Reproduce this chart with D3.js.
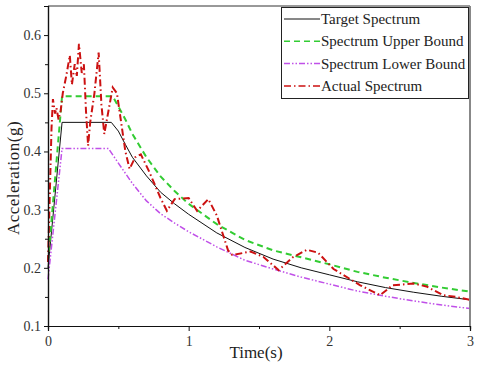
<!DOCTYPE html>
<html>
<head>
<meta charset="utf-8">
<script src="https://cdn.jsdelivr.net/npm/d3@7"></script>
<style>
  body { margin: 0; background: #fff; }
  text { font-family: "Liberation Serif", "Times New Roman", serif; }
</style>
</head>
<body>
<svg id="chart" width="480" height="369"></svg>
<script>
// series (period in s, acceleration in g)
var targetT   = [0, 0.1, 0.45, 0.5, 0.55, 0.6, 0.7, 0.8, 0.9, 1.0, 1.2, 1.4, 1.6, 1.8, 2.0, 2.2, 2.4, 2.6, 2.8, 3.0];
var targetA   = [0.2, 0.45, 0.45, 0.435, 0.412, 0.39, 0.358, 0.33, 0.31, 0.292, 0.26, 0.235, 0.215, 0.2, 0.188, 0.176, 0.166, 0.158, 0.151, 0.145];

var upperT    = [0, 0.1, 0.46, 0.55, 0.6, 0.7, 0.8, 0.9, 1.0, 1.2, 1.4, 1.6, 1.8, 2.0, 2.2, 2.4, 2.6, 2.8, 3.0];
var upperA    = [0.21, 0.495, 0.495, 0.455, 0.43, 0.39, 0.357, 0.332, 0.31, 0.275, 0.248, 0.23, 0.218, 0.206, 0.193, 0.183, 0.174, 0.166, 0.159];

var lowerT    = [0, 0.1, 0.43, 0.5, 0.6, 0.7, 0.8, 0.9, 1.0, 1.2, 1.4, 1.6, 1.8, 2.0, 2.2, 2.4, 2.6, 2.8, 3.0];
var lowerA    = [0.18, 0.405, 0.405, 0.38, 0.345, 0.315, 0.293, 0.277, 0.262, 0.236, 0.213, 0.198, 0.184, 0.172, 0.16, 0.151, 0.143, 0.136, 0.13];

var actualT   = [0, 0.01, 0.025, 0.035, 0.05, 0.06, 0.075, 0.09, 0.105, 0.13, 0.155, 0.17, 0.19, 0.205, 0.22, 0.24, 0.255, 0.27, 0.285, 0.3, 0.33, 0.36, 0.38, 0.4, 0.43, 0.46, 0.49, 0.52, 0.55, 0.58, 0.62, 0.66, 0.72, 0.8, 0.845, 0.9, 1.0, 1.06, 1.14, 1.2, 1.28, 1.31, 1.44, 1.53, 1.64, 1.74, 1.84, 1.92, 2.03, 2.22, 2.36, 2.45, 2.6, 2.69, 2.81, 2.9, 3.0];
var actualA   = [0.21, 0.3, 0.44, 0.49, 0.465, 0.475, 0.455, 0.47, 0.5, 0.53, 0.565, 0.515, 0.55, 0.53, 0.585, 0.535, 0.55, 0.47, 0.41, 0.45, 0.5, 0.57, 0.48, 0.43, 0.47, 0.51, 0.5, 0.45, 0.4, 0.37, 0.39, 0.395, 0.365, 0.32, 0.298, 0.318, 0.32, 0.298, 0.318, 0.29, 0.23, 0.222, 0.228, 0.219, 0.196, 0.218, 0.231, 0.226, 0.198, 0.17, 0.153, 0.17, 0.173, 0.168, 0.153, 0.15, 0.145];

var xTicks = [0, 1, 2, 3];
var yTicks = [0.1, 0.2, 0.3, 0.4, 0.5, 0.6];
var seriesNames = ["Target Spectrum", "Spectrum Upper Bound", "Spectrum Lower Bound", "Actual Spectrum"];

var svg = d3.select("#chart");
var plotL = 48, plotR = 470, plotT = 6, plotB = 326;

var x = d3.scaleLinear().domain([0, 3]).range([plotL, plotR]);
var y = d3.scaleLinear().domain([0.1, 0.65]).range([plotB, plotT]);

var styles = [
  { color: "#111", width: 1, dash: null },
  { color: "#33cc33", width: 2, dash: "6,4" },
  { color: "#c050e8", width: 1.5, dash: "6,2,1.5,2,1.5,2" },
  { color: "#cc1111", width: 2, dash: "7,3,1.5,3" }
];

var series = [
  d3.zip(targetT, targetA),
  d3.zip(upperT, upperA),
  d3.zip(lowerT, lowerA),
  d3.zip(actualT, actualA)
];

var line = d3.line()
  .x(function(d) { return x(d[0]); })
  .y(function(d) { return y(d[1]); });

// curves
svg.append("g").selectAll("path")
  .data(series)
  .enter().append("path")
    .attr("d", line)
    .attr("fill", "none")
    .attr("stroke", function(d, i) { return styles[i].color; })
    .attr("stroke-width", function(d, i) { return styles[i].width; })
    .attr("stroke-dasharray", function(d, i) { return styles[i].dash; });

// frame: top and right
svg.append("line").attr("x1", plotL).attr("x2", plotR).attr("y1", plotT).attr("y2", plotT)
  .attr("stroke", "#333").attr("stroke-width", 1);
svg.append("line").attr("x1", plotR).attr("x2", plotR).attr("y1", plotT).attr("y2", plotB)
  .attr("stroke", "#888").attr("stroke-width", 2);

// axes
var xAxis = d3.axisBottom(x).tickValues(xTicks).tickFormat(d3.format("d")).tickSize(5).tickPadding(5);
var xMinor = d3.axisBottom(x).tickValues([0.5, 1.5, 2.5]).tickFormat("").tickSize(3);
var yAxis = d3.axisLeft(y).tickValues(yTicks).tickFormat(d3.format(".1f")).tickSize(4).tickPadding(3);
var yMinor = d3.axisLeft(y).tickValues([0.15, 0.25, 0.35, 0.45, 0.55]).tickFormat("").tickSize(3);

function styleAxis(g) {
  g.select(".domain").attr("stroke", "#111").attr("stroke-width", 1.2);
  g.selectAll(".tick line").attr("stroke", "#111");
  g.selectAll(".tick text").attr("fill", "#333").style("font-size", "14px")
    .style("font-family", "'Liberation Serif', serif");
}

svg.append("g").attr("transform", "translate(0," + plotB + ")").call(xMinor).call(styleAxis);
svg.append("g").attr("transform", "translate(0," + plotB + ")").call(xAxis).call(styleAxis);
svg.append("g").attr("transform", "translate(" + plotL + ",0)").call(yMinor).call(styleAxis);
svg.append("g").attr("transform", "translate(" + plotL + ",0)").call(yAxis).call(styleAxis);

// axis titles
svg.append("text")
  .attr("x", 256).attr("y", 358)
  .attr("text-anchor", "middle")
  .style("font-size", "17px").attr("fill", "#222")
  .text("Time(s)");
svg.append("text")
  .attr("transform", "translate(19,178) rotate(-90)")
  .attr("text-anchor", "middle")
  .style("font-size", "17px").style("letter-spacing", "0.5px").attr("fill", "#222")
  .text("Acceleration(g)");

// legend
var legend = svg.append("g");
legend.append("rect")
  .attr("x", 281.5).attr("y", 7.5).attr("width", 187).attr("height", 91)
  .attr("fill", "#fff").attr("stroke", "#222").attr("stroke-width", 1);

var rows = legend.selectAll("g.row")
  .data(seriesNames)
  .enter().append("g")
    .attr("class", "row")
    .attr("transform", function(d, i) { return "translate(0," + (19 + i * 22.3) + ")"; });

rows.append("line")
  .attr("x1", 284).attr("x2", 320).attr("y1", 0).attr("y2", 0)
  .attr("stroke", function(d, i) { return styles[i].color; })
  .attr("stroke-width", function(d, i) { return Math.min(styles[i].width, 1.5); })
  .attr("stroke-dasharray", function(d, i) { return styles[i].dash; });

rows.append("text")
  .attr("x", 321).attr("y", 5)
  .style("font-size", "15px").attr("fill", "#222")
  .text(function(d) { return d; });
</script>
</body>
</html>
